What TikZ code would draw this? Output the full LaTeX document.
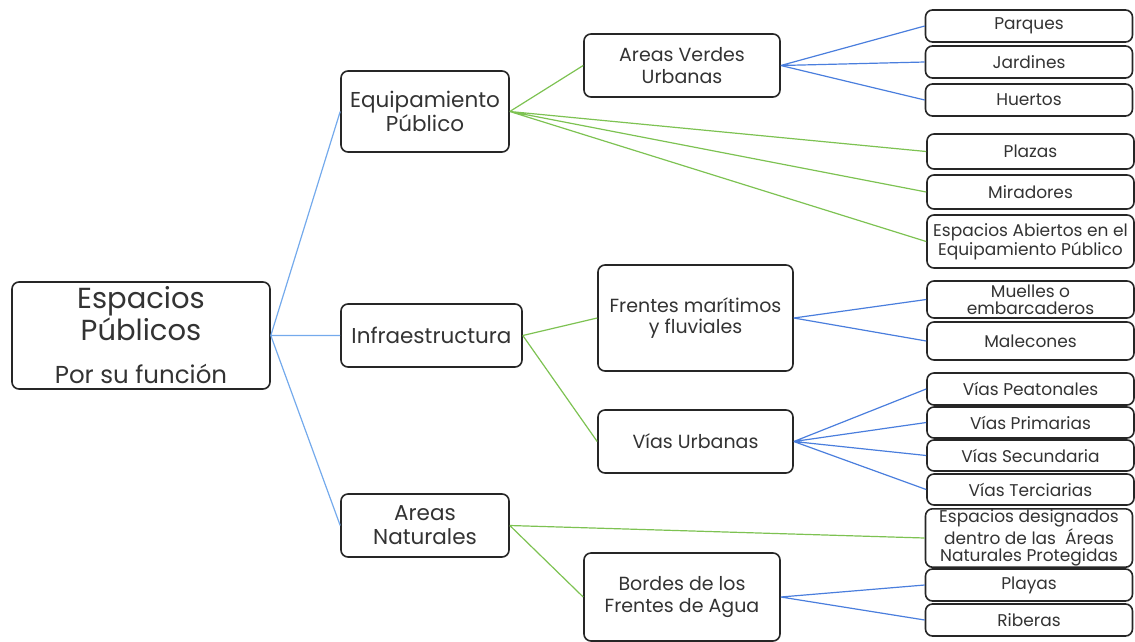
\documentclass[tikz,border=0pt]{standalone}
\usepackage{fontspec}
\setmainfont{Poppins}
\usepackage{tikz}
\usetikzlibrary{%
  positioning
 ,calc
}
\definecolor{txt}{HTML}{333333}
\definecolor{lblue}{HTML}{74AAEC}
\definecolor{dblue}{HTML}{4A7EDD}
\definecolor{lgreen}{HTML}{7DC252}
\tikzstyle{bx}=[draw=black!85,line width=1.6pt,rounded corners=7pt,fill=white,text=txt,align=center,inner sep=1pt]
\tikzstyle{leaf}=[bx,minimum width=207pt,font=\fontsize{17}{18.5}\selectfont]
\tikzstyle{mid}=[bx,font=\fontsize{19}{21.5}\selectfont]
\tikzstyle{top}=[bx,font=\fontsize{21.5}{24}\selectfont]

\begin{document}
\begin{tikzpicture}[x=1pt,y=-1pt,
    every path/.style={line width=1.2pt}]
  \useasboundingbox (0,0) rectangle (1135,641);
  % the root
  \node[bx,minimum width=258pt,minimum height=107pt](root)at(141,335.5){};
  \node[text=txt,font=\fontsize{29}{32}\selectfont,align=center](rootT)at(141,314){Espacios\\P\'ublicos};
  \node[text=txt,font=\fontsize{24.5}{27}\selectfont](rootS)at(141,374){Por su funci\'on};
  % first level
  \node[top,minimum width=168pt,minimum height=81pt](equip)at(425,111.5){Equipamiento\\P\'ublico};
  \node[top,minimum width=181pt,minimum height=63pt](infra)at(431.5,335.5){Infraestructura};
  \node[top,minimum width=168pt,minimum height=63pt](nat)at(425,525.5){Areas\\Naturales};
  % second level
  \node[mid,minimum width=196pt,minimum height=63pt](verdes)at(682,65.5){Areas Verdes\\Urbanas};
  \node[mid,minimum width=195pt,minimum height=106pt](frentes)at(695.5,318){Frentes mar\'itimos\\y fluviales};
  \node[mid,minimum width=195pt,minimum height=63pt](vias)at(695.5,441.5){V\'ias Urbanas};
  \node[mid,minimum width=196pt,minimum height=88pt](bordes)at(682,597){Bordes de los\\Frentes de Agua};
  % the leaves
  \node[leaf,minimum height=32pt](parques)at(1029,26){Parques};
  \node[leaf,minimum height=32pt](jardines)at(1029,62){Jardines};
  \node[leaf,minimum height=32pt](huertos)at(1029,100){Huertos};
  \node[leaf,minimum height=35pt](plazas)at(1030.5,151.5){Plazas};
  \node[leaf,minimum height=34pt](miradores)at(1030.5,192){Miradores};
  \node[leaf,minimum height=53pt](abiertos)at(1030.5,241.5){Espacios Abiertos en el\\Equipamiento P\'ublico};
  \node[leaf,minimum height=37pt,font=\fontsize{17}{17}\selectfont](muelles)at(1030.5,299.5){Muelles o\\embarcaderos};
  \node[leaf,minimum height=38pt](malecones)at(1030.5,341){Malecones};
  \node[leaf,minimum height=32pt](peaton)at(1030.5,389){V\'ias Peatonales};
  \node[leaf,minimum height=31pt](prim)at(1030.5,422.5){V\'ias Primarias};
  \node[leaf,minimum height=31pt](secun)at(1030.5,455.5){V\'ias Secundaria};
  \node[leaf,minimum height=31pt](terc)at(1030.5,489.5){V\'ias Terciarias};
  \node[leaf,minimum height=54pt,font=\fontsize{17}{17.5}\selectfont](design)at(1029,538){Espacios designados\\dentro de las\ \ \'Areas\\Naturales Protegidas};
  \node[leaf,minimum height=32pt](playas)at(1029,585){Playas};
  \node[leaf,minimum height=32pt](riberas)at(1029,620){Riberas};
  % the connectors
  \draw[lblue] (root.east)--(equip.west) (root.east)--(infra.west) (root.east)--(nat.west);
  \draw[lgreen] (equip.east)--(verdes.west) (equip.east)--(plazas.west)
    (equip.east)--(miradores.west) (equip.east)--(abiertos.west);
  \draw[lgreen] (infra.east)--(frentes.west) (infra.east)--(vias.west);
  \draw[lgreen] (nat.east)--(design.west) (nat.east)--(bordes.west);
  \draw[dblue] (verdes.east)--(parques.west) (verdes.east)--(jardines.west) (verdes.east)--(huertos.west);
  \draw[dblue] (frentes.east)--(muelles.west) (frentes.east)--(malecones.west);
  \draw[dblue] (vias.east)--(peaton.west) (vias.east)--(prim.west)
    (vias.east)--(secun.west) (vias.east)--(terc.west);
  \draw[dblue] (bordes.east)--(playas.west) (bordes.east)--(riberas.west);
\end{tikzpicture}
\end{document}
